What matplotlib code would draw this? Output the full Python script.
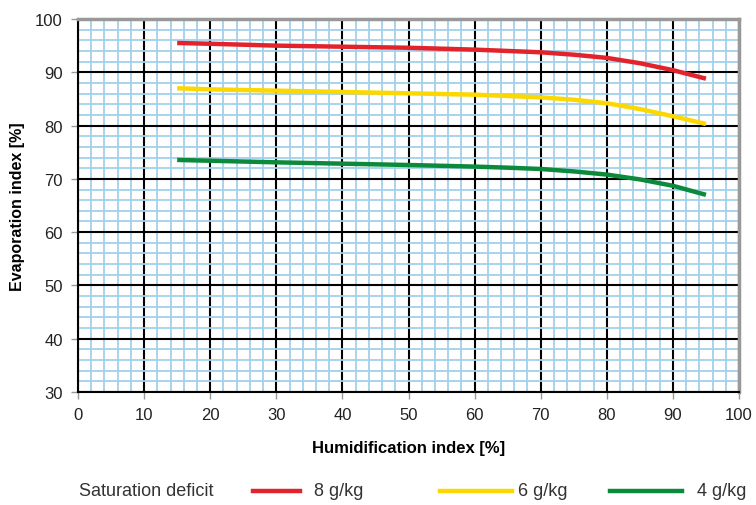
import matplotlib.pyplot as plt
from matplotlib.lines import Line2D
from matplotlib.ticker import MultipleLocator

plt.rcParams['font.family'] = ['Liberation Sans', 'DejaVu Sans']

humidification = [15, 20, 30, 40, 50, 60, 65, 70, 75, 80, 85, 90, 95]
evap_8 = [95.5, 95.35, 95.0, 94.8, 94.6, 94.25, 94.0, 93.75, 93.3, 92.7, 91.7, 90.4, 88.8]
evap_6 = [87.0, 86.8, 86.55, 86.3, 86.05, 85.8, 85.55, 85.3, 84.85, 84.2, 83.1, 81.75, 80.3]
evap_4 = [73.55, 73.4, 73.1, 72.85, 72.6, 72.3, 72.1, 71.85, 71.4, 70.8, 69.9, 68.7, 67.0]

labels = ['8 g/kg', '6 g/kg', '4 g/kg']
colors = ['#e3232b', '#fdd800', '#0b8a3b']

fig = plt.figure(figsize=(7.56, 5.06), dpi=100)
ax = fig.add_axes([0.1032, 0.2233, 0.8743, 0.7372])

ax.set_xlim(0, 100)
ax.set_ylim(30, 100)
ax.xaxis.set_major_locator(MultipleLocator(10))
ax.yaxis.set_major_locator(MultipleLocator(10))
ax.xaxis.set_minor_locator(MultipleLocator(2))
ax.yaxis.set_minor_locator(MultipleLocator(2))

ax.grid(which='minor', color='#a3d0ec', linewidth=1.3, zorder=0)
ax.grid(which='major', color='black', linewidth=1.5, zorder=1)
ax.set_axisbelow(True)

for series, c in zip([evap_8, evap_6, evap_4], colors):
    ax.plot(humidification, series, color=c, linewidth=3.2, solid_capstyle='butt',
            solid_joinstyle='round', zorder=3)

for side in ['top', 'right']:
    ax.spines[side].set_color('#999999')
    ax.spines[side].set_linewidth(2.5)
for side in ['left', 'bottom']:
    ax.spines[side].set_color('black')
    ax.spines[side].set_linewidth(1.5)

ax.tick_params(which='minor', length=0)
ax.tick_params(which='major', length=5, width=1, color='#999999',
               labelsize=12, labelcolor='#222222', pad=6)

ax.set_xlabel('Humidification index [%]', fontsize=12, fontweight='bold', labelpad=13)
ax.set_ylabel('Evaporation index [%]', fontsize=11.5, fontweight='bold', labelpad=7)

# legend row under the chart
ty = 1 - 492 / 506
fig.text(79 / 756, ty, 'Saturation deficit', fontsize=13, color='#333333', va='center')
handles = [(253, 300, 314), (440, 512, 518), (610, 682, 697)]
for (x0, x1, tx), c, lab in zip(handles, colors, labels):
    fig.add_artist(Line2D([x0 / 756, x1 / 756], [ty, ty], color=c, linewidth=3.2,
                          transform=fig.transFigure))
    fig.text(tx / 756, ty, lab, fontsize=13, color='#333333', va='center')

fig.savefig('out.png', dpi=100)
